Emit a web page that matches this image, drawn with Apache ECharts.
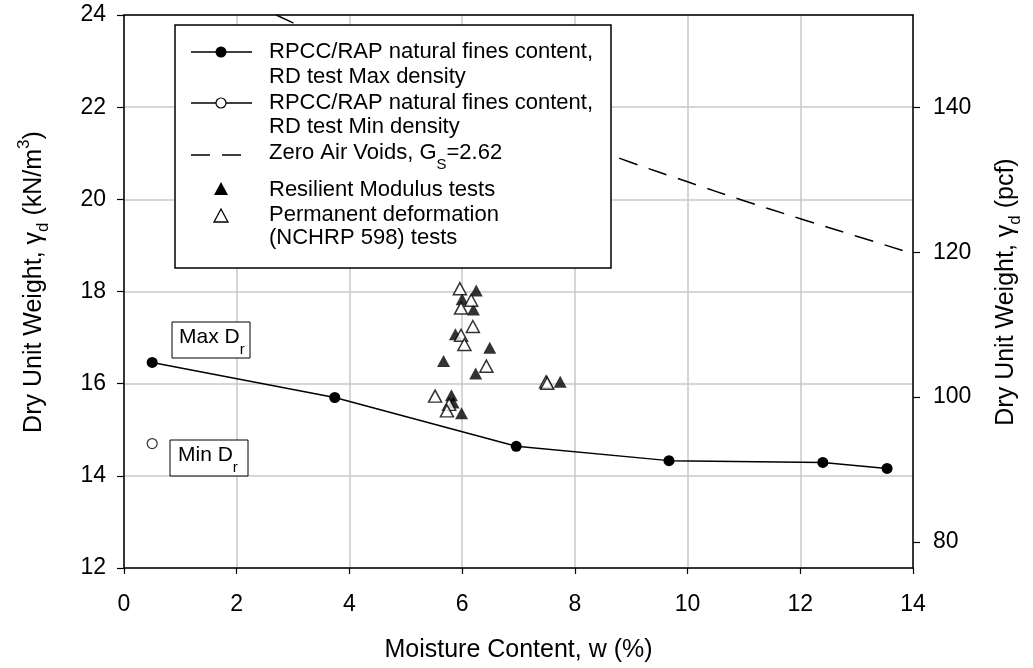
<!DOCTYPE html>
<html><head><meta charset="utf-8">
<script src="https://cdn.jsdelivr.net/npm/echarts@6/dist/echarts.min.js"></script>
<style>html,body{margin:0;padding:0;background:#fff}#c{width:1033px;height:668px}</style>
</head><body><div id="c"></div>
<script>
// ---- data ----
const maxDensity = [[0.50,16.46],[3.74,15.70],[6.96,14.64],[9.67,14.33],[12.40,14.29],[13.54,14.16]];
const minDensity = [[0.50,14.70]];
const zeroAirVoids = [[2.7,24.0],[3,23.83],[4,23.26],[5,22.72],[6,22.21],[7,21.72],[8,21.25],[9,20.8],[10,20.38],[11,19.97],[12,19.58],[13,19.2],[14,18.82]];
const resilient = [[6.25,18.02],[6.00,17.83],[6.20,17.61],[5.88,17.07],[6.49,16.78],[5.67,16.49],[6.24,16.22],[7.74,16.04],[5.81,15.75],[5.84,15.59],[5.99,15.36]];
const permanent = [[5.96,18.06],[6.16,17.81],[5.98,17.64],[6.19,17.24],[5.98,17.05],[6.04,16.85],[6.43,16.38],[7.49,16.04],[7.51,16.01],[5.52,15.73],[5.77,15.55],[5.73,15.41]];
const xTicks = {min:0, max:14, step:2};
const yTicks = {min:12, max:24, step:2};
const pcfTicks = [80,100,120,140];
const KN_TO_PCF = 6.366;
const legendNames = ['RPCC/RAP natural fines content,\nRD test Max density','RPCC/RAP natural fines content,\nRD test Min density','Zero Air Voids, Gs=2.62','Resilient Modulus tests','Permanent deformation\n(NCHRP 598) tests'];

const FONT = '"Liberation Sans", Arial, sans-serif';
const LF = 22;   // legend font
const TF = 23;   // tick font
const NF = 25;   // axis-title font
const chart = echarts.init(document.getElementById('c'), null, {renderer:'canvas'});
const G = {left:124, top:15, right:1033-913, bottom:668-569};
const txt = (x,y,t) => ({type:'text', x, y, z:100, style:{text:t, fontSize:LF, fontFamily:FONT, fill:'#000', verticalAlign:'middle'}});
const subRich = (f) => ({a:{fontSize:f, fontFamily:FONT, lineHeight:f+5, verticalAlign:'top'}, s:{fontSize:Math.round(f*0.7), fontFamily:FONT, lineHeight:Math.round(f*0.7), verticalAlign:'bottom', padding:[0,0,-4,0]}});
const legendX = 175, legendTop = 25, legendW = 436, legendH = 243;
const iconCx = 221, textX = 269;
const graphics = [
  {type:'rect', shape:{x:legendX, y:legendTop, width:legendW, height:legendH}, style:{fill:'#fff', stroke:'#000', lineWidth:1.5}, z:90},
  {type:'line', shape:{x1:191,y1:52,x2:252,y2:52}, style:{stroke:'#000', lineWidth:1.3}, z:100},
  {type:'circle', shape:{cx:iconCx, cy:52, r:5.5}, style:{fill:'#000'}, z:101},
  txt(textX,52,'RPCC/RAP natural fines content,'), txt(textX,77,'RD test Max density'),
  {type:'line', shape:{x1:191,y1:103,x2:252,y2:103}, style:{stroke:'#000', lineWidth:1.3}, z:100},
  {type:'circle', shape:{cx:iconCx, cy:103, r:5}, style:{fill:'#fff', stroke:'#000', lineWidth:1.2}, z:101},
  txt(textX,103,'RPCC/RAP natural fines content,'), txt(textX,127,'RD test Min density'),
  {type:'line', shape:{x1:191,y1:155,x2:245,y2:155}, style:{stroke:'#000', lineWidth:1.5, lineDash:[19,12]}, z:100},
  {type:'text', x:textX, y:155, z:100, style:{text:'{a|Zero Air Voids, G}{s|S}{a|=2.62}', fontFamily:FONT, verticalAlign:'middle', rich:subRich(LF)}},
  {type:'polygon', shape:{points:[[iconCx,182],[iconCx-7,195],[iconCx+7,195]]}, style:{fill:'#000'}, z:101},
  txt(textX,190,'Resilient Modulus tests'),
  {type:'polygon', shape:{points:[[iconCx,209],[iconCx-7,222],[iconCx+7,222]]}, style:{fill:'#fff', stroke:'#000', lineWidth:1.3}, z:101},
  txt(textX,215,'Permanent deformation'), txt(textX,238,'(NCHRP 598) tests'),
  {type:'rect', shape:{x:172, y:322, width:78, height:36}, style:{fill:'#fff', stroke:'#000', lineWidth:1}, z:90},
  {type:'text', x:179, y:340, z:100, style:{text:'{a|Max D}{s|r}', verticalAlign:'middle', rich:subRich(21)}},
  {type:'rect', shape:{x:170, y:440, width:78, height:36}, style:{fill:'#fff', stroke:'#000', lineWidth:1}, z:90},
  {type:'text', x:178, y:458, z:100, style:{text:'{a|Min D}{s|r}', verticalAlign:'middle', rich:subRich(21)}},
  {type:'text', x:34, y:282, rotation:Math.PI/2, z:100, style:{text:'{a|Dry Unit Weight, \u03b3}{s|d}{a| (kN/m}{p|3}{a|)}', align:'center', verticalAlign:'middle', rich:{a:{fontSize:NF, fontFamily:FONT, lineHeight:32, verticalAlign:'middle'}, s:{fontSize:17, fontFamily:FONT, lineHeight:17, verticalAlign:'bottom', padding:[0,0,-2,0]}, p:{fontSize:17, fontFamily:FONT, lineHeight:17, verticalAlign:'top', padding:[-2,0,0,0]}}}},
  {type:'text', x:1006, y:292, rotation:Math.PI/2, z:100, style:{text:'{a|Dry Unit Weight, \u03b3}{s|d}{a| (pcf)}', align:'center', verticalAlign:'middle', rich:{a:{fontSize:NF, fontFamily:FONT, lineHeight:32, verticalAlign:'middle'}, s:{fontSize:17, fontFamily:FONT, lineHeight:17, verticalAlign:'bottom', padding:[0,0,-2,0]}}}}
];

const axisLine = {show:true, onZero:false, lineStyle:{color:'#000', width:1.5}};
const option = {
  animation:false,
  backgroundColor:'#fff',
  grid:G,
  xAxis:[{
    type:'value', min:xTicks.min, max:xTicks.max, interval:xTicks.step, position:'bottom',
    axisLine, axisTick:{show:true, length:6, lineStyle:{color:'#000', width:1.2}},
    axisLabel:{fontSize:TF, fontFamily:FONT, color:'#000', margin:25},
    splitLine:{show:true, lineStyle:{color:'#c8c8c8', width:1.5}},
    name:'Moisture Content, w (%)', nameLocation:'middle', nameGap:70,
    nameTextStyle:{fontSize:NF, fontFamily:FONT, color:'#000'}
  },{
    type:'value', min:xTicks.min, max:xTicks.max, position:'top',
    axisLine, axisTick:{show:false}, axisLabel:{show:false}, splitLine:{show:false}
  }],
  yAxis:[{
    type:'value', min:yTicks.min, max:yTicks.max, interval:yTicks.step, position:'left',
    axisLine, axisTick:{show:true, length:7, lineStyle:{color:'#000', width:1.2}},
    axisLabel:{fontSize:TF, fontFamily:FONT, color:'#000', margin:18},
    splitLine:{show:true, lineStyle:{color:'#c8c8c8', width:1.5}}
  },{
    type:'value', min:yTicks.min*KN_TO_PCF, max:yTicks.max*KN_TO_PCF, position:'right',
    axisLine, axisTick:{show:true, length:7, lineStyle:{color:'#000', width:1.2}},
    axisLabel:{fontSize:TF, fontFamily:FONT, color:'#000', margin:20, showMinLabel:false, showMaxLabel:false,
      formatter:v => pcfTicks.includes(Math.round(v)) && Math.abs(v-Math.round(v))<1e-6 ? String(Math.round(v)) : ''},
    splitLine:{show:false}
  }],
  series:[
    {type:'line', name:legendNames[2], data:zeroAirVoids, smooth:true, showSymbol:false, symbol:'none', clip:true,
      lineStyle:{color:'#000', width:1.5, type:[19,12]}, z:2},
    {type:'line', name:legendNames[0], data:maxDensity, symbol:'circle', symbolSize:11,
      itemStyle:{color:'#000'}, lineStyle:{color:'#000', width:1.5}, z:3},
    {type:'scatter', name:legendNames[1], data:minDensity, symbol:'circle', symbolSize:10,
      itemStyle:{color:'#fff', borderColor:'#000', borderWidth:1.2}, z:3},
    {type:'scatter', name:legendNames[3], data:resilient, symbol:'triangle', symbolSize:[13,12],
      itemStyle:{color:'#000'}, z:4},
    {type:'scatter', name:legendNames[4], data:permanent, symbol:'triangle', symbolSize:[13,12],
      itemStyle:{color:'#fff', borderColor:'#000', borderWidth:1.5}, z:5}
  ],
  graphic:graphics
};
chart.setOption(option);
</script></body></html>
